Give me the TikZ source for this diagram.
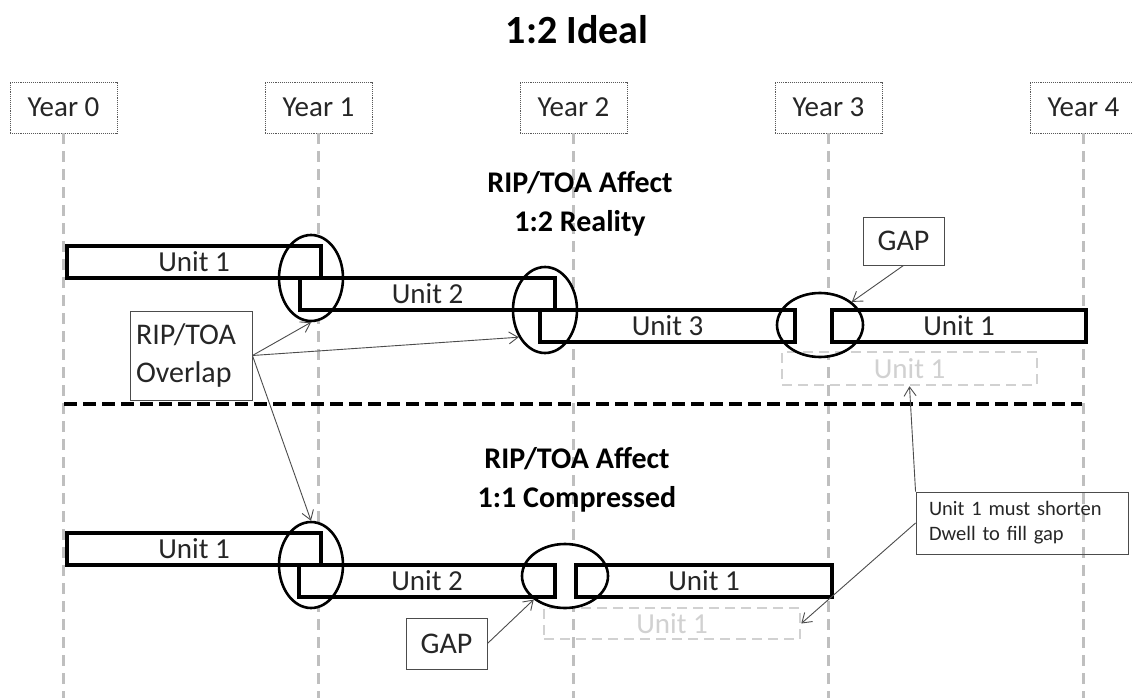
\documentclass[tikz,border=0pt]{standalone}
\usepackage{fontspec}
\setmainfont{Carlito}
\usetikzlibrary{arrows.meta,shapes.geometric}
\begin{document}
\begin{tikzpicture}[x=1pt,y=-1pt,
  yearbox/.style={draw=black!65, densely dotted, line width=0.9pt, minimum width=107pt, minimum height=51pt, inner sep=0pt, font=\fontsize{29}{34}\selectfont, text=black!85},
  vline/.style={draw=black!25, line width=3pt, dash pattern=on 11pt off 7pt},
  hline/.style={draw=black, line width=3.6pt, dash pattern=on 13pt off 6pt},
  bar/.style={draw=black, line width=3.2pt, fill=white, minimum height=32pt, inner sep=0pt, font=\fontsize{29}{34}\selectfont, text=black!85},
  ghost/.style={draw=black!18, line width=2.5pt, dash pattern=on 10pt off 6pt, minimum height=32pt, inner sep=0pt, font=\fontsize{29}{34}\selectfont, text=black!18},
  ring/.style={ellipse, draw=black, line width=2.6pt, inner sep=0pt},
  ringfill/.style={ellipse, fill=white, inner sep=0pt},
  callout/.style={draw=black!70, line width=0.9pt, inner sep=0pt, font=\fontsize{30}{38}\selectfont, text=black!85},
  arr/.style={draw=black!70, line width=0.9pt, -{Straight Barb[length=9pt,width=12pt]}},
  heading/.style={font=\bfseries\fontsize{30}{39}\selectfont, align=center, inner sep=0pt},
]
\useasboundingbox (0,0) rectangle (1132,698);
\fill[white] (0,0) rectangle (1132,698);

% title
\node[font=\bfseries\fontsize{40}{48}\selectfont, inner sep=0pt] (title) at (577,30) {1:2 Ideal};

% year boxes
\node[yearbox] (y0) at (63.5,107.5) {Year 0};
\node[yearbox] (y1) at (318.5,107.5) {Year 1};
\node[yearbox] (y2) at (573.5,107.5) {Year 2};
\node[yearbox] (y3) at (828.5,107.5) {Year 3};
\node[yearbox] (y4) at (1083.5,107.5) {Year 4};

% vertical dashed year lines
\coordinate (b0) at (63.5,698);
\coordinate (b1) at (318.5,698);
\coordinate (b2) at (573.5,698);
\coordinate (b3) at (828.5,698);
\coordinate (b4) at (1083.5,698);
\draw[vline] (y0.south) -- (b0);
\draw[vline] (y1.south) -- (b1);
\draw[vline] (y2.south) -- (b2);
\draw[vline] (y3.south) -- (b3);
\draw[vline] (y4.south) -- (b4);

% headings
\node[heading] (h1) at (580,204) {RIP/TOA Affect\\1:2 Reality};
\node[heading] (h2) at (577,480) {RIP/TOA Affect\\1:1 Compressed};

% divider
\coordinate (hl) at (64,404);
\coordinate (hr) at (1082,404);
\draw[hline] (hl) -- (hr);

% white fills behind rings
\node[ringfill, minimum width=64pt, minimum height=86pt] (e1f) at (311,278) {};
\node[ringfill, minimum width=64pt, minimum height=86pt] (e2f) at (545,310) {};
\node[ringfill, minimum width=86pt, minimum height=64pt] (e3f) at (820,325) {};
\node[ringfill, minimum width=64pt, minimum height=86pt] (e4f) at (311,565) {};
\node[ringfill, minimum width=86pt, minimum height=64pt] (e5f) at (565,576) {};

% bars (upper)
\node[bar, minimum width=254pt] (u1a) at (194,262) {Unit 1};
\node[bar, minimum width=255pt] (u2a) at (427.5,294) {Unit 2};
\node[bar, minimum width=255pt] (u3a) at (667.5,326) {Unit 3};
\node[bar, minimum width=254pt] (u1b) at (959,326) {Unit 1};
\node[ghost, minimum width=255pt, minimum height=33pt] (g1) at (909.5,368.5) {Unit 1};

% bars (lower)
\node[bar, minimum width=254pt] (u1c) at (194,549) {Unit 1};
\node[bar, minimum width=256pt] (u2c) at (427,581) {Unit 2};
\node[bar, minimum width=256pt] (u1d) at (704,581) {Unit 1};
\node[ghost, minimum width=256pt, minimum height=31pt] (g2) at (672,623.5) {Unit 1};

% rings
\node[ring, minimum width=64pt, minimum height=86pt] (e1) at (311,278) {};
\node[ring, minimum width=64pt, minimum height=86pt] (e2) at (545,310) {};
\node[ring, minimum width=86pt, minimum height=64pt] (e3) at (820,325) {};
\node[ring, minimum width=64pt, minimum height=86pt] (e4) at (311,565) {};
\node[ring, minimum width=86pt, minimum height=64pt] (e5) at (565,576) {};

% callouts
\node[callout, minimum width=122pt, minimum height=89pt, text width=110pt, align=left, inner xsep=6pt] (ov) at (191,355.5) {RIP/TOA\\Overlap};
\node[callout, minimum width=81pt, minimum height=48pt] (gapA) at (903.5,241) {GAP};
\node[callout, minimum width=81pt, minimum height=51pt] (gapB) at (446.5,643.5) {GAP};
\node[callout, font=\fontsize{20.5}{25}\selectfont, minimum width=212pt, minimum height=62pt, text width=186pt, inner xsep=13pt, align=left] (dw) at (1022,523) {Unit 1 must shorten\\Dwell to fill gap};

% arrows
\draw[arr] (ov.east) -- (e1.south);
\draw[arr] (ov.east) -- (e2.226);
\draw[arr] (ov.east) -- (e4.north);
\draw[arr] (gapA.south) -- (e3.36);
\draw[arr] (gapB.east) -- (e5.217);
\draw[arr] (dw.north west) -- (g1.south);
\draw[arr] (dw.west) -- (g2.east);
\end{tikzpicture}
\end{document}
